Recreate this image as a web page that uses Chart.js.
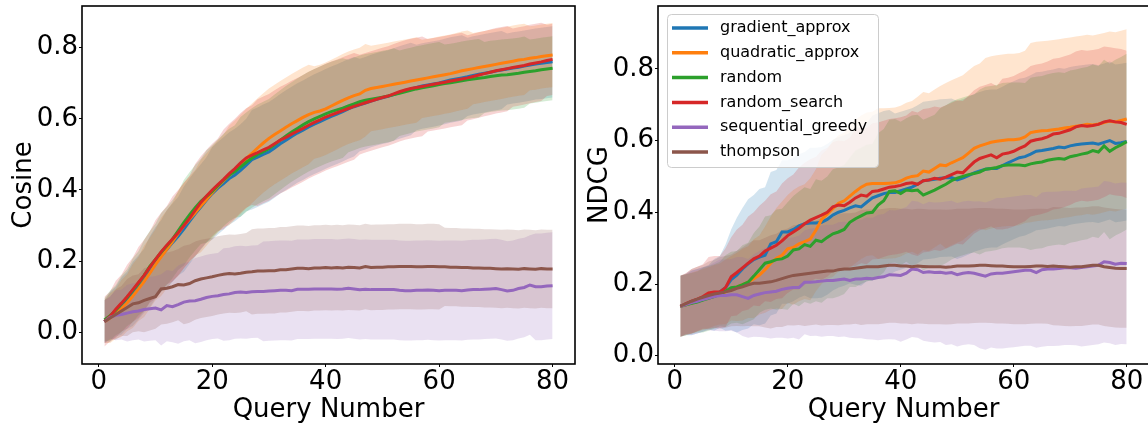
<!DOCTYPE html>
<html>
<head>
<meta charset="utf-8">
<script src="https://cdn.jsdelivr.net/npm/chart.js@4.4.1/dist/chart.umd.min.js"></script>
<style>
  html, body { margin: 0; padding: 0; background: #fff; overflow: hidden; }
  #wrap { position: relative; width: 1148px; height: 430px; }
  #cosChart { position: absolute; left: 0; top: 0; }
  #ndcgChart { position: absolute; left: 580px; top: 0; }
</style>
</head>
<body>
<div id="wrap">
  <canvas id="cosChart" width="580" height="430"></canvas>
  <canvas id="ndcgChart" width="580" height="430"></canvas>
</div>
<script>
// query numbers 1..80
const queries = [1,2,3,4,5,6,7,8,9,10,11,12,13,14,15,16,17,18,19,20,
  21,22,23,24,25,26,27,28,29,30,31,32,33,34,35,36,37,38,39,40,
  41,42,43,44,45,46,47,48,49,50,51,52,53,54,55,56,57,58,59,60,
  61,62,63,64,65,66,67,68,69,70,71,72,73,74,75,76,77,78,79,80];
const methods = ["gradient_approx", "quadratic_approx", "random", "random_search", "sequential_greedy", "thompson"];
const xTicks = [0, 20, 40, 60, 80];
const yTicks = [0.0, 0.2, 0.4, 0.6, 0.8];

// ---- Cosine (left) : means ----
const cosGradient = [0.030,0.043,0.058,0.074,0.090,0.108,0.126,0.145,0.170,0.195,
  0.215,0.233,0.252,0.270,0.290,0.312,0.333,0.352,0.372,0.390,
  0.405,0.418,0.432,0.442,0.455,0.470,0.485,0.492,0.500,0.507,
  0.518,0.530,0.540,0.550,0.560,0.568,0.577,0.585,0.592,0.600,
  0.607,0.613,0.620,0.628,0.634,0.639,0.644,0.650,0.655,0.659,
  0.663,0.668,0.674,0.679,0.684,0.688,0.692,0.695,0.698,0.701,
  0.705,0.709,0.712,0.715,0.718,0.722,0.725,0.728,0.731,0.734,
  0.737,0.740,0.743,0.745,0.748,0.751,0.754,0.756,0.758,0.760];
const cosQuadratic = [0.030,0.040,0.052,0.067,0.083,0.102,0.122,0.143,0.166,0.190,
  0.212,0.233,0.255,0.278,0.300,0.318,0.336,0.355,0.373,0.392,
  0.410,0.426,0.441,0.456,0.472,0.488,0.503,0.518,0.532,0.545,
  0.556,0.566,0.576,0.586,0.595,0.604,0.612,0.618,0.622,0.628,
  0.636,0.644,0.652,0.659,0.665,0.670,0.680,0.685,0.688,0.691,
  0.694,0.697,0.700,0.703,0.706,0.709,0.712,0.715,0.718,0.721,
  0.724,0.727,0.731,0.735,0.738,0.741,0.744,0.747,0.750,0.753,
  0.756,0.759,0.762,0.765,0.767,0.770,0.772,0.775,0.777,0.779];
const cosRandom = [0.035,0.047,0.062,0.080,0.098,0.118,0.138,0.160,0.185,0.205,
  0.225,0.243,0.262,0.285,0.308,0.330,0.350,0.368,0.382,0.396,
  0.412,0.428,0.442,0.452,0.465,0.478,0.490,0.500,0.508,0.516,
  0.528,0.540,0.552,0.563,0.573,0.583,0.592,0.600,0.607,0.614,
  0.620,0.625,0.630,0.636,0.642,0.648,0.652,0.655,0.658,0.661,
  0.664,0.668,0.672,0.676,0.680,0.684,0.687,0.690,0.693,0.696,
  0.699,0.701,0.704,0.707,0.710,0.712,0.714,0.716,0.719,0.721,
  0.723,0.724,0.726,0.728,0.731,0.733,0.735,0.738,0.740,0.742];
const cosSearch = [0.030,0.045,0.065,0.082,0.100,0.120,0.140,0.160,0.183,0.205,
  0.226,0.245,0.262,0.280,0.300,0.320,0.343,0.365,0.383,0.400,
  0.415,0.430,0.446,0.460,0.476,0.490,0.498,0.505,0.513,0.520,
  0.530,0.540,0.548,0.557,0.565,0.573,0.582,0.590,0.597,0.605,
  0.611,0.617,0.623,0.629,0.635,0.640,0.645,0.650,0.655,0.660,
  0.664,0.670,0.676,0.681,0.685,0.688,0.691,0.694,0.697,0.700,
  0.703,0.706,0.709,0.712,0.715,0.719,0.723,0.727,0.731,0.735,
  0.738,0.741,0.744,0.747,0.750,0.754,0.757,0.760,0.764,0.767];
const cosGreedy = [0.030,0.042,0.048,0.050,0.054,0.058,0.060,0.064,0.066,0.068,
  0.063,0.075,0.072,0.078,0.085,0.088,0.089,0.093,0.098,0.101,
  0.103,0.106,0.108,0.112,0.113,0.112,0.114,0.115,0.115,0.116,
  0.117,0.118,0.118,0.117,0.121,0.121,0.121,0.122,0.122,0.122,
  0.122,0.121,0.122,0.124,0.122,0.120,0.121,0.120,0.120,0.120,
  0.120,0.120,0.118,0.117,0.117,0.118,0.118,0.119,0.118,0.117,
  0.118,0.118,0.118,0.117,0.119,0.120,0.120,0.121,0.122,0.123,
  0.120,0.116,0.118,0.123,0.126,0.133,0.128,0.128,0.130,0.131];
const cosThompson = [0.030,0.040,0.050,0.060,0.070,0.080,0.083,0.090,0.095,0.100,
  0.122,0.124,0.128,0.134,0.133,0.137,0.145,0.150,0.153,0.156,
  0.160,0.163,0.165,0.164,0.166,0.169,0.170,0.172,0.172,0.173,
  0.173,0.176,0.176,0.178,0.180,0.180,0.179,0.181,0.181,0.182,
  0.181,0.182,0.181,0.183,0.182,0.181,0.185,0.182,0.183,0.183,
  0.184,0.184,0.185,0.185,0.185,0.184,0.184,0.185,0.185,0.184,
  0.184,0.183,0.183,0.182,0.182,0.181,0.181,0.180,0.180,0.179,
  0.178,0.179,0.178,0.177,0.179,0.178,0.177,0.179,0.178,0.178];

// ---- Cosine (left) : std ----
const cosGradientStd = [.06,.07,.07,.08,.08,.09,.09,.09,.10,.10,
  .10,.11,.11,.11,.12,.12,.12,.12,.12,.13,
  .13,.13,.13,.13,.13,.13,.14,.14,.14,.14,
  .14,.14,.14,.14,.14,.14,.14,.14,.14,.14,
  .14,.14,.14,.14,.14,.13,.13,.13,.13,.13,
  .13,.13,.13,.13,.13,.12,.12,.12,.12,.12,
  .12,.12,.12,.12,.11,.11,.11,.11,.11,.11,
  .11,.10,.10,.10,.10,.10,.10,.10,.10,.10];
const cosQuadraticStd = [.06,.07,.07,.08,.08,.09,.09,.10,.10,.10,
  .11,.11,.11,.12,.12,.12,.12,.13,.13,.13,
  .13,.13,.14,.14,.14,.14,.14,.14,.14,.14,
  .14,.14,.14,.14,.14,.14,.14,.13,.13,.13,
  .13,.13,.13,.13,.13,.13,.13,.12,.12,.12,
  .12,.12,.12,.12,.12,.12,.11,.11,.11,.11,
  .11,.11,.11,.11,.11,.10,.10,.10,.10,.10,
  .10,.10,.10,.10,.10,.09,.09,.09,.09,.09];
const cosRandomStd = [.06,.07,.07,.08,.08,.09,.09,.10,.10,.10,
  .11,.11,.11,.11,.12,.12,.12,.12,.13,.13,
  .13,.13,.13,.13,.14,.14,.14,.14,.14,.14,
  .14,.14,.14,.14,.14,.14,.14,.14,.14,.14,
  .14,.14,.14,.13,.13,.13,.13,.13,.13,.13,
  .13,.13,.12,.12,.12,.12,.12,.12,.12,.12,
  .11,.11,.11,.11,.11,.11,.11,.10,.10,.10,
  .10,.10,.10,.10,.10,.09,.09,.09,.09,.09];
const cosSearchStd = [.07,.07,.08,.08,.09,.09,.10,.10,.10,.11,
  .11,.11,.12,.12,.12,.12,.13,.13,.13,.13,
  .13,.14,.14,.14,.14,.14,.14,.15,.15,.15,
  .15,.15,.15,.15,.15,.15,.15,.15,.15,.15,
  .15,.15,.15,.15,.15,.14,.14,.14,.14,.14,
  .14,.14,.14,.14,.14,.14,.14,.13,.13,.13,
  .13,.13,.13,.13,.12,.12,.12,.12,.12,.12,
  .12,.12,.11,.11,.11,.11,.11,.11,.10,.10];
const cosGreedyStd = [.06,.06,.07,.07,.08,.08,.08,.09,.09,.09,
  .10,.10,.10,.11,.11,.11,.12,.12,.12,.12,
  .12,.13,.13,.13,.13,.13,.13,.13,.14,.14,
  .14,.14,.14,.14,.14,.14,.14,.14,.14,.14,
  .14,.14,.14,.14,.14,.14,.14,.14,.14,.14,
  .14,.14,.14,.14,.14,.14,.14,.14,.14,.14,
  .14,.14,.14,.14,.14,.14,.14,.14,.14,.14,
  .14,.14,.14,.14,.14,.14,.15,.15,.15,.15];
const cosThompsonStd = [.06,.06,.07,.07,.08,.08,.08,.09,.09,.09,
  .10,.10,.10,.10,.11,.11,.11,.11,.11,.11,
  .11,.11,.11,.11,.11,.11,.12,.12,.12,.12,
  .12,.12,.12,.12,.12,.12,.12,.12,.12,.12,
  .12,.12,.12,.12,.12,.12,.12,.12,.12,.12,
  .12,.12,.12,.12,.12,.12,.12,.12,.12,.12,
  .11,.11,.11,.11,.11,.11,.11,.11,.11,.11,
  .11,.11,.11,.11,.11,.11,.11,.11,.11,.11];

// ---- NDCG (right) : means ----
const ndcgGradient = [.138,.142,.147,.152,.157,.163,.170,.178,.190,.212,
  .225,.242,.256,.268,.275,.280,.312,.318,.345,.345,
  .352,.362,.368,.370,.370,.372,.380,.392,.400,.405,
  .412,.418,.415,.428,.440,.446,.452,.455,.455,.460,
  .465,.470,.478,.488,.490,.492,.495,.496,.497,.490,
  .495,.502,.510,.515,.520,.522,.522,.530,.538,.545,
  .552,.555,.562,.570,.572,.575,.578,.582,.580,.585,
  .588,.590,.592,.593,.590,.595,.600,.592,.594,.597];
const ndcgQuadratic = [.138,.142,.147,.152,.157,.162,.168,.172,.178,.188,
  .192,.198,.205,.215,.225,.240,.258,.272,.280,.298,
  .302,.312,.318,.325,.350,.380,.395,.410,.425,.432,
  .445,.458,.470,.478,.480,.480,.480,.481,.482,.487,
  .495,.500,.502,.515,.512,.522,.532,.530,.538,.545,
  .552,.565,.578,.585,.590,.595,.598,.600,.602,.602,
  .604,.610,.622,.625,.627,.628,.630,.632,.635,.637,
  .640,.642,.645,.643,.646,.650,.654,.652,.656,.660];
const ndcgRandom = [.138,.142,.146,.150,.155,.160,.165,.172,.180,.190,
  .192,.198,.205,.222,.240,.258,.262,.268,.270,.278,
  .295,.298,.310,.305,.322,.318,.330,.340,.345,.352,
  .372,.382,.390,.398,.400,.420,.432,.458,.460,.452,
  .462,.460,.462,.448,.455,.462,.470,.478,.488,.495,
  .500,.505,.508,.512,.520,.522,.525,.530,.532,.532,
  .532,.530,.535,.538,.540,.545,.548,.550,.548,.555,
  .558,.562,.565,.572,.568,.585,.570,.580,.588,.597];
const ndcgSearch = [.138,.145,.152,.158,.165,.175,.178,.178,.190,.220,
  .232,.245,.258,.270,.278,.292,.300,.308,.320,.335,
  .345,.355,.368,.378,.385,.392,.400,.415,.420,.418,
  .428,.440,.448,.445,.458,.460,.465,.470,.472,.475,
  .480,.482,.478,.488,.490,.495,.492,.498,.505,.512,
  .510,.525,.540,.550,.555,.560,.552,.562,.565,.570,
  .578,.585,.598,.602,.605,.610,.618,.620,.625,.630,
  .638,.642,.640,.642,.645,.652,.655,.652,.650,.645];
const ndcgGreedy = [.138,.143,.148,.152,.157,.161,.165,.168,.168,.170,
  .170,.165,.160,.168,.172,.176,.178,.180,.185,.188,
  .190,.190,.205,.205,.206,.208,.210,.210,.212,.214,
  .210,.214,.214,.216,.215,.218,.220,.226,.225,.224,
  .230,.242,.240,.232,.234,.232,.233,.230,.232,.226,
  .230,.232,.230,.226,.222,.228,.230,.230,.232,.234,
  .236,.238,.238,.232,.240,.242,.242,.243,.245,.245,
  .244,.246,.248,.250,.252,.262,.260,.255,.258,.257];
const ndcgThompson = [.138,.145,.152,.158,.163,.168,.172,.175,.178,.182,
  .188,.192,.198,.202,.202,.204,.206,.210,.215,.220,
  .224,.226,.228,.230,.232,.234,.236,.236,.240,.242,
  .242,.244,.246,.248,.248,.248,.250,.252,.252,.250,
  .250,.248,.250,.249,.248,.248,.248,.247,.248,.250,
  .250,.250,.251,.252,.252,.251,.250,.250,.249,.248,
  .248,.248,.249,.250,.250,.249,.250,.249,.248,.247,
  .248,.248,.250,.252,.252,.248,.246,.244,.243,.243];

// ---- NDCG (right) : std ----
const ndcgGradientStd = [.085,.085,.09,.09,.09,.09,.10,.10,.12,.14,
  .16,.17,.18,.18,.19,.19,.20,.20,.20,.20,
  .20,.20,.20,.21,.21,.21,.21,.21,.21,.21,
  .21,.22,.22,.22,.23,.23,.23,.23,.22,.22,
  .22,.22,.22,.22,.22,.22,.22,.22,.22,.22,
  .22,.22,.22,.22,.22,.22,.22,.22,.22,.22,
  .22,.22,.22,.22,.22,.22,.22,.22,.22,.22,
  .22,.22,.22,.22,.22,.22,.22,.22,.22,.22];
const ndcgQuadraticStd = [.085,.085,.085,.085,.085,.085,.085,.085,.09,.09,
  .095,.10,.10,.11,.11,.12,.13,.14,.15,.15,
  .16,.16,.16,.17,.17,.18,.18,.19,.19,.19,
  .20,.20,.20,.20,.20,.21,.21,.21,.21,.21,
  .21,.21,.22,.22,.22,.22,.22,.23,.23,.23,
  .23,.23,.23,.23,.24,.24,.24,.24,.24,.24,
  .24,.24,.25,.25,.25,.25,.25,.25,.25,.25,
  .25,.25,.25,.25,.25,.25,.25,.25,.25,.25];
const ndcgRandomStd = [.085,.085,.085,.085,.09,.09,.09,.09,.10,.10,
  .10,.11,.11,.12,.12,.13,.13,.14,.14,.15,
  .15,.16,.16,.16,.17,.17,.17,.18,.18,.18,
  .18,.19,.19,.19,.19,.20,.20,.20,.20,.20,
  .20,.21,.21,.21,.21,.21,.22,.22,.22,.22,
  .22,.22,.22,.23,.23,.23,.23,.23,.23,.23,
  .23,.23,.24,.24,.24,.24,.24,.24,.24,.24,
  .24,.24,.24,.24,.24,.24,.245,.245,.245,.245];
const ndcgSearchStd = [.085,.085,.09,.09,.09,.10,.10,.10,.11,.11,
  .12,.12,.13,.13,.14,.14,.15,.15,.16,.16,
  .16,.17,.17,.17,.17,.18,.18,.18,.18,.18,
  .18,.19,.19,.19,.19,.19,.19,.19,.19,.19,
  .19,.20,.20,.20,.20,.20,.20,.20,.20,.20,
  .20,.20,.20,.20,.20,.20,.20,.21,.21,.21,
  .21,.21,.21,.21,.21,.21,.21,.21,.21,.21,
  .21,.21,.21,.21,.21,.21,.205,.205,.205,.205];
const ndcgGreedyStd = [.085,.085,.09,.09,.09,.09,.095,.10,.10,.10,
  .105,.11,.11,.115,.12,.125,.13,.13,.135,.14,
  .14,.145,.145,.15,.15,.155,.155,.155,.16,.16,
  .16,.165,.165,.17,.17,.175,.175,.18,.18,.185,
  .185,.19,.19,.19,.195,.195,.195,.20,.20,.20,
  .20,.20,.20,.205,.205,.205,.21,.21,.21,.21,
  .21,.21,.21,.21,.215,.215,.215,.215,.215,.215,
  .215,.22,.22,.22,.22,.225,.225,.225,.225,.225];
const ndcgThompsonStd = [.085,.085,.09,.09,.09,.095,.095,.10,.10,.10,
  .105,.11,.115,.12,.12,.125,.13,.13,.135,.135,
  .14,.14,.145,.145,.145,.15,.15,.15,.155,.155,
  .155,.155,.16,.16,.16,.16,.16,.16,.16,.16,
  .16,.16,.16,.16,.16,.16,.16,.16,.16,.16,
  .16,.16,.16,.16,.16,.16,.16,.16,.16,.16,
  .16,.16,.16,.16,.16,.16,.165,.165,.165,.165,
  .165,.165,.165,.165,.165,.165,.165,.165,.165,.165];

const LINE_COLORS = ["#1f77b4", "#ff7f0e", "#2ca02c", "#d62728", "#9467bd", "#8c564b"];
const FILL_COLORS = ["rgba(31,119,180,0.2)", "rgba(255,127,14,0.2)", "rgba(44,160,44,0.2)",
                     "rgba(214,39,40,0.2)", "rgba(148,103,189,0.2)", "rgba(140,86,75,0.2)"];

Chart.defaults.font.family = '"DejaVu Sans", sans-serif';
Chart.defaults.color = '#000';

function buildDatasets(means, stds) {
    let datasets = [];
    methods.forEach((name, k) => {
        datasets.push({
            label: name,
            data: queries.map((q, i) => ({x: q, y: means[k][i]})),
            borderColor: LINE_COLORS[k],
            borderWidth: 3,
            pointRadius: 0,
            fill: false,
            order: 10 - k
        });
    });
    methods.forEach((name, k) => {
        let lowIndex = datasets.length;
        datasets.push({
            label: name + " low",
            data: queries.map((q, i) => ({x: q, y: means[k][i] - stds[k][i]})),
            borderColor: 'rgba(0,0,0,0)',
            borderWidth: 0,
            pointRadius: 0,
            fill: false,
            order: 30 - k
        });
        datasets.push({
            label: name + " high",
            data: queries.map((q, i) => ({x: q, y: means[k][i] + stds[k][i]})),
            borderColor: 'rgba(0,0,0,0)',
            backgroundColor: FILL_COLORS[k],
            borderWidth: 0,
            pointRadius: 0,
            fill: lowIndex,
            order: 30 - k
        });
    });
    return datasets;
}

const framePlugin = {
    id: 'frame',
    afterDatasetsDraw(chart) {
        const {ctx, chartArea: a} = chart;
        ctx.save();
        ctx.strokeStyle = '#000';
        ctx.lineWidth = 1.6;
        ctx.strokeRect(a.left, a.top, a.right - a.left, a.bottom - a.top);
        ctx.restore();
    }
};

const boxLegend = {
    id: 'boxLegend',
    afterDraw(chart) {
        const {ctx, chartArea: a} = chart;
        const x0 = a.left + 9, y0 = a.top + 8, w = 211, h = 153;
        ctx.save();
        ctx.beginPath();
        ctx.roundRect(x0 + 0.5, y0 + 0.5, w, h, 4);
        ctx.fillStyle = 'rgba(255,255,255,0.8)';
        ctx.fill();
        ctx.strokeStyle = '#cccccc';
        ctx.lineWidth = 1;
        ctx.stroke();
        chart.data.datasets.slice(0, methods.length).forEach((ds, i) => {
            const y = y0 + 14 + i * 24.8;
            ctx.beginPath();
            ctx.moveTo(x0 + 5, y);
            ctx.lineTo(x0 + 41, y);
            ctx.strokeStyle = ds.borderColor;
            ctx.lineWidth = 3.5;
            ctx.stroke();
            ctx.fillStyle = '#000';
            ctx.font = '16px "DejaVu Sans"';
            ctx.textBaseline = 'middle';
            ctx.textAlign = 'left';
            ctx.fillText(ds.label, x0 + 53, y);
        });
        ctx.restore();
    }
};

function makeOptions(yMin, yMax, yTitle, yTitlePad, yWidth, rightPad) {
    return {
        responsive: false,
        animation: false,
        devicePixelRatio: 1,
        layout: { padding: {left: 0, right: rightPad, top: 6, bottom: 0} },
        plugins: { legend: {display: false}, tooltip: {enabled: false} },
        elements: { line: { tension: 0 } },
        scales: {
            x: {
                type: 'linear', min: -2.95, max: 83.95,
                afterBuildTicks: (s) => { s.ticks = xTicks.map(v => ({value: v})); },
                afterFit: (s) => { s.height = 66; s.paddingLeft = 0; s.paddingRight = 0; },
                grid: {drawOnChartArea: false, drawTicks: true, tickLength: 3, color: '#000'},
                border: {display: false},
                ticks: {font: {size: 26}, color: '#000', padding: 0, maxRotation: 0, autoSkip: false},
                title: {display: true, text: 'Query Number', font: {size: 26}, color: '#000', padding: {top: 0, bottom: 4}}
            },
            y: {
                type: 'linear', min: yMin, max: yMax,
                afterBuildTicks: (s) => { s.ticks = yTicks.map(v => ({value: v})); },
                afterFit: (s) => { s.width = yWidth; s.paddingTop = 0; s.paddingBottom = 0; },
                grid: {drawOnChartArea: false, drawTicks: true, tickLength: 3, color: '#000'},
                border: {display: false},
                ticks: {font: {size: 26}, color: '#000', padding: 1, callback: (v) => v.toFixed(1)},
                title: {display: true, text: yTitle, font: {size: 26}, color: '#000', padding: {top: yTitlePad, bottom: 0}}
            }
        }
    };
}

new Chart(document.getElementById('cosChart').getContext('2d'), {
    type: 'line',
    data: { datasets: buildDatasets(
        [cosGradient, cosQuadratic, cosRandom, cosSearch, cosGreedy, cosThompson],
        [cosGradientStd, cosQuadraticStd, cosRandomStd, cosSearchStd, cosGreedyStd, cosThompsonStd]) },
    options: makeOptions(-0.089, 0.917, 'Cosine', 9, 82, 5),
    plugins: [framePlugin]
});

new Chart(document.getElementById('ndcgChart').getContext('2d'), {
    type: 'line',
    data: { datasets: buildDatasets(
        [ndcgGradient, ndcgQuadratic, ndcgRandom, ndcgSearch, ndcgGreedy, ndcgThompson],
        [ndcgGradientStd, ndcgQuadraticStd, ndcgRandomStd, ndcgSearchStd, ndcgGreedyStd, ndcgThompsonStd]) },
    options: makeOptions(-0.023, 0.975, 'NDCG', 5, 78, 11),
    plugins: [framePlugin, boxLegend]
});
</script>
</body>
</html>
